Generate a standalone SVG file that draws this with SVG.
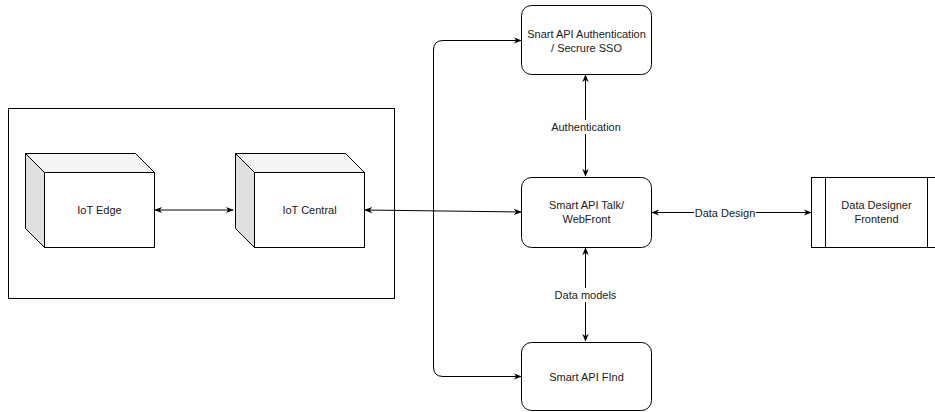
<svg xmlns="http://www.w3.org/2000/svg" width="935" height="412" viewBox="0 0 935 412">
<style>
text{font-family:"Liberation Sans",Arial,sans-serif;font-size:11px;fill:#1a1a1a;text-anchor:middle;dominant-baseline:central}
.box{fill:#fff;stroke:#000;stroke-width:1}
.line{fill:none;stroke:#000;stroke-width:1}
.lbl{fill:#fff}
</style>
<defs>
<marker id="ah" viewBox="0 0 10 10" refX="9" refY="5" markerWidth="8" markerHeight="8" markerUnits="userSpaceOnUse" orient="auto-start-reverse">
<path d="M0,1 L10,5 L0,9 L3,5 Z" fill="#000"/>
</marker>
</defs>
<rect id="container" x="8.5" y="108.5" width="386" height="190" class="box"/>
<g id="connectors">
<line class="line" x1="155" y1="210" x2="233" y2="210" marker-start="url(#ah)" marker-end="url(#ah)"/>
<line class="line" x1="365" y1="210" x2="521" y2="212" marker-start="url(#ah)" marker-end="url(#ah)"/>
<path class="line" d="M433.5,210 L433.5,50 Q433.5,40.5 443,40.5 L521,40.5" marker-end="url(#ah)"/>
<path class="line" d="M433.5,210 L433.5,367 Q433.5,376.5 443,376.5 L521,376.5" marker-end="url(#ah)"/>
<line class="line" x1="585.5" y1="75" x2="585.5" y2="176" marker-start="url(#ah)" marker-end="url(#ah)"/>
<line class="line" x1="585.5" y1="248" x2="585.5" y2="341" marker-start="url(#ah)" marker-end="url(#ah)"/>
<line class="line" x1="652" y1="212.5" x2="811" y2="212.5" marker-start="url(#ah)" marker-end="url(#ah)"/>
<rect class="lbl" x="548" y="120" width="76" height="14"/>
<text x="586" y="127">Authentication</text>
<rect class="lbl" x="552" y="288" width="67" height="14"/>
<text x="585.5" y="295">Data models</text>
<rect class="lbl" x="694" y="206" width="62" height="14"/>
<text x="725" y="213">Data Design</text>
</g>
<g id="iot-edge">
<path d="M25.5,153.5 L135.5,153.5 L154.5,172.5 L44.5,172.5 Z" fill="#f5f5f5" stroke="#000"/>
<path d="M25.5,153.5 L44.5,172.5 L44.5,247.5 L25.5,228.5 Z" fill="#e0e0e0" stroke="#000"/>
<rect class="box" x="44.5" y="172.5" width="110" height="75"/>
<text x="99.5" y="210">IoT Edge</text>
</g>
<g id="iot-central">
<path d="M235.5,153.5 L345.5,153.5 L364.5,172.5 L254.5,172.5 Z" fill="#f5f5f5" stroke="#000"/>
<path d="M235.5,153.5 L254.5,172.5 L254.5,247.5 L235.5,228.5 Z" fill="#e0e0e0" stroke="#000"/>
<rect class="box" x="254.5" y="172.5" width="110" height="75"/>
<text x="309.5" y="210">IoT Central</text>
</g>
<g id="auth">
<rect class="box" x="521.5" y="5.5" width="130" height="69" rx="10" ry="10"/>
<text x="586.5" y="34">Snart API Authentication</text>
<text x="586.5" y="48">/ Secrure SSO</text>
</g>
<g id="talk">
<rect class="box" x="521.5" y="177.5" width="130" height="70" rx="10" ry="10"/>
<text x="586.5" y="205">Smart API Talk/</text>
<text x="586.5" y="219">WebFront</text>
</g>
<g id="find">
<rect class="box" x="521.5" y="342.5" width="130" height="68" rx="10" ry="10"/>
<text x="586.5" y="377">Smart API FInd</text>
</g>
<g id="data-designer">
<rect class="box" x="811.5" y="177.5" width="130" height="70"/>
<line class="line" x1="825.5" y1="177.5" x2="825.5" y2="247.5"/>
<line class="line" x1="927.5" y1="177.5" x2="927.5" y2="247.5"/>
<text x="876.5" y="205">Data Designer</text>
<text x="876.5" y="219">Frontend</text>
</g>
</svg>
